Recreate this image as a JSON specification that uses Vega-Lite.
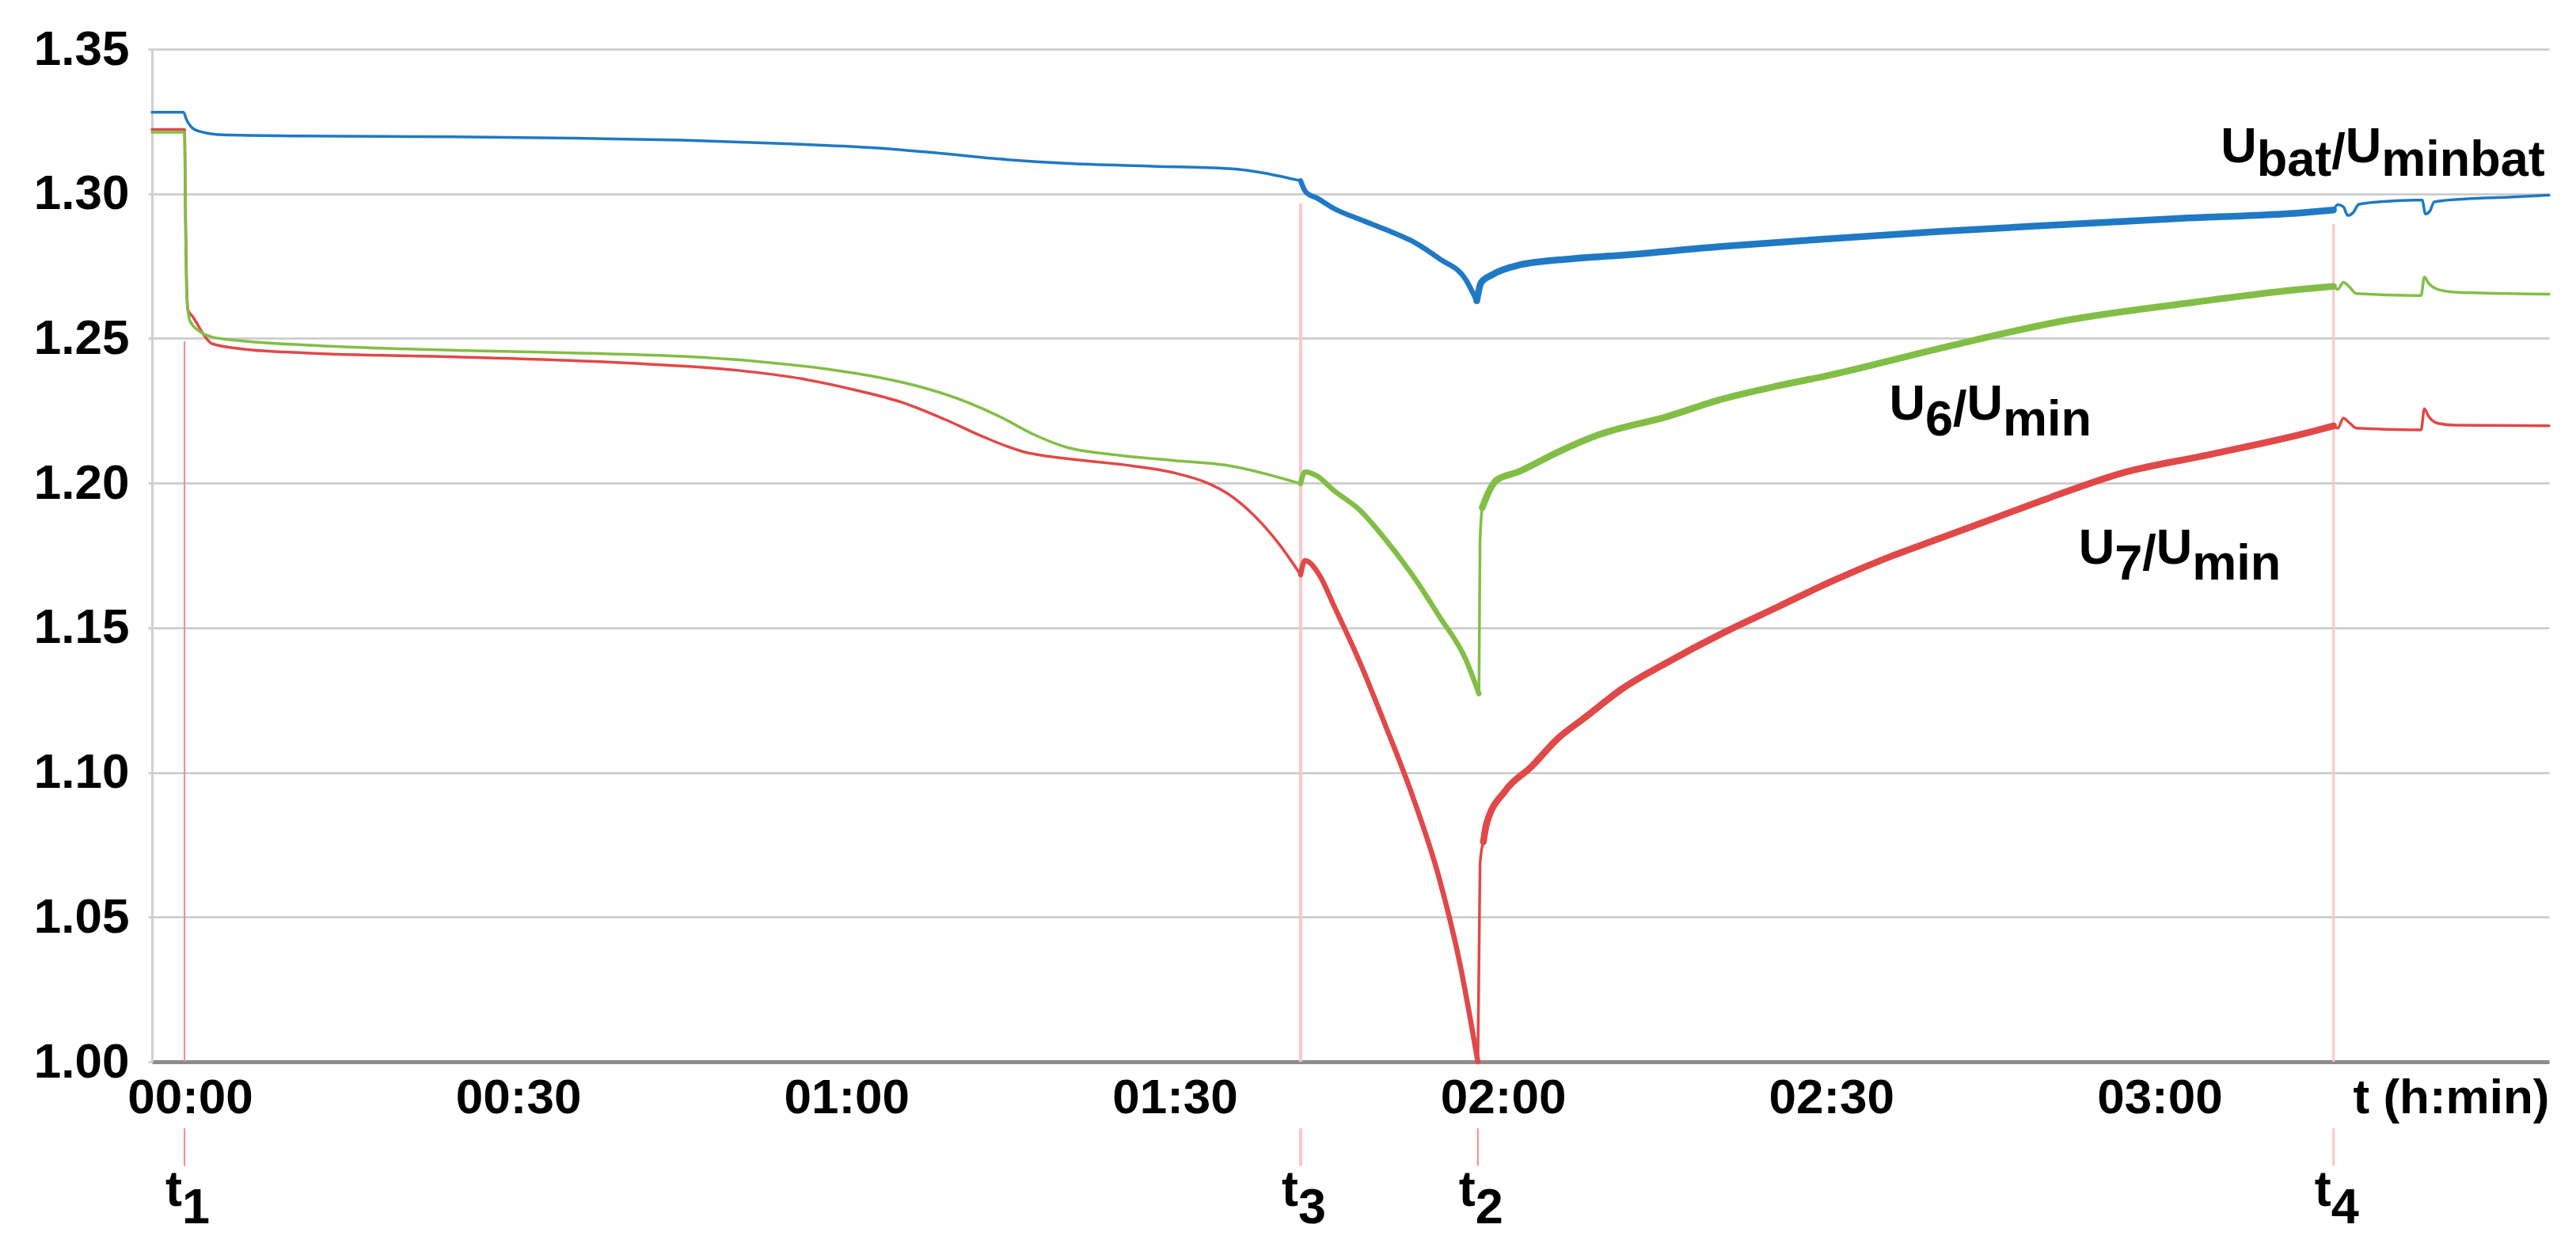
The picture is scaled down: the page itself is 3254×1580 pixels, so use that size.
{
  "$schema": "https://vega.github.io/schema/vega-lite/v6.json",
  "width": 3028,
  "height": 1279,
  "autosize": {"type": "none"},
  "padding": {"left": 192, "top": 62, "right": 34, "bottom": 239},
  "background": "white",
  "data": {"values": [{}]},
  "resolve": {"scale": {"color": "independent", "strokeWidth": "independent"}},
  "config": {
    "view": {"stroke": null},
    "font": "Liberation Sans",
    "axisX": {"domainColor": "#8c8c8c", "domainWidth": 5, "ticks": false, "tickSize": 0, "grid": false, "labelFont": "Liberation Sans", "labelFontSize": 62, "labelFontWeight": "bold", "labelColor": "#000000", "labelBaseline": "alphabetic", "labelPadding": 64, "labelFlush": false, "labelOverlap": false, "titleFont": "Liberation Sans", "titleFontSize": 62, "titleFontWeight": "bold", "titleColor": "#000000", "titleAnchor": "end", "titleAlign": "right", "titleBaseline": "alphabetic", "titleX": 3028, "titleY": 64},
    "axisY": {"domainColor": "#d0d0d0", "domainWidth": 3, "ticks": true, "tickColor": "#c8c8c8", "tickWidth": 2.5, "tickSize": 5, "grid": true, "gridColor": "#c8c8c8", "gridWidth": 2.5, "labelFont": "Liberation Sans", "labelFontSize": 62, "labelFontWeight": "bold", "labelColor": "#000000", "labelPadding": 24, "labelFlush": false}
  },
  "datasets": {
    "series": [
      {"s": "U7", "seg": "r1", "t": [-3.47, -0.5, -0.4, -0.2, 0.3, 1.5, 2, 4.9, 10.5, 24.3, 40, 50, 56, 61, 65, 69, 72.5, 76, 80, 85, 90, 93, 94.9, 97.3, 99.7, 101.5], "v": [1.3222, 1.3222, 1.29, 1.26, 1.2573, 1.25, 1.2482, 1.2463, 1.245, 1.2436, 1.2415, 1.239, 1.236, 1.232, 1.228, 1.222, 1.216, 1.211, 1.2085, 1.2065, 1.2035, 1.2, 1.1962, 1.1886, 1.1781, 1.1683]},
      {"s": "U7", "seg": "d", "t": [101.5, 101.9, 103.3, 104.5, 106.9, 109.3, 111.7, 114.2, 116, 117.7], "v": [1.1683, 1.1732, 1.1677, 1.158, 1.1382, 1.1158, 1.0922, 1.063, 1.035, 1.0]},
      {"s": "U7", "seg": "j", "t": [117.7, 117.9, 118.2], "v": [1.0, 1.0684, 1.076]},
      {"s": "U7", "seg": "c", "t": [118.2, 118.5, 120.2, 122.6, 125, 127.4, 131, 135, 140, 145, 150, 155, 160, 165, 170, 176.6, 184.5, 193.2, 195.9], "v": [1.076, 1.0823, 1.0936, 1.102, 1.1117, 1.1187, 1.1292, 1.138, 1.148, 1.157, 1.166, 1.174, 1.181, 1.188, 1.195, 1.2035, 1.2098, 1.2171, 1.2198]},
      {"s": "U7", "seg": "r2", "t": [195.9, 196.3, 196.8, 197.3, 198, 203.9, 204.2, 204.6, 205.4, 207, 215.6], "v": [1.2198, 1.219, 1.2225, 1.221, 1.219, 1.2184, 1.2257, 1.223, 1.2207, 1.22, 1.2198]},
      {"s": "U6", "seg": "r1", "t": [-3.47, -0.5, -0.4, -0.3, 0, 0.8, 2, 4.9, 10.5, 24.3, 35, 45, 52, 58, 63, 67, 71, 74, 77, 80, 84, 90, 95, 101.5], "v": [1.3213, 1.3213, 1.29, 1.265, 1.256, 1.2527, 1.2505, 1.2491, 1.2477, 1.2459, 1.245, 1.2438, 1.242, 1.2395, 1.2365, 1.233, 1.228, 1.223, 1.217, 1.2125, 1.21, 1.2078, 1.206, 1.1998]},
      {"s": "U6", "seg": "d", "t": [101.5, 101.9, 103, 104.5, 106.9, 109.3, 111.7, 114.2, 116.6, 117.8], "v": [1.1998, 1.2039, 1.2025, 1.1976, 1.1907, 1.1803, 1.1683, 1.1538, 1.139, 1.1272]},
      {"s": "U6", "seg": "j", "t": [117.8, 117.9, 118.1], "v": [1.1272, 1.1803, 1.1915]},
      {"s": "U6", "seg": "c", "t": [118.1, 118.7, 119.4, 121.4, 125, 128.6, 135, 140, 145, 149.6, 160.5, 171.4, 182.3, 193.2, 195.9], "v": [1.1915, 1.197, 1.201, 1.2039, 1.2107, 1.2165, 1.223, 1.229, 1.2335, 1.2371, 1.2471, 1.2562, 1.2621, 1.2671, 1.268]},
      {"s": "U6", "seg": "r2", "t": [195.9, 196.3, 196.8, 197.3, 198, 203.9, 204.2, 204.6, 205.4, 207, 209.3, 215.6], "v": [1.268, 1.267, 1.2694, 1.268, 1.2655, 1.2648, 1.2712, 1.269, 1.267, 1.266, 1.2657, 1.2653]},
      {"s": "Ubat", "seg": "r1", "t": [-3.47, -0.6, -0.3, 0.3, 1.5, 3, 10, 24, 35, 45, 55, 62, 68, 74, 80, 88, 95, 101.5], "v": [1.3282, 1.3282, 1.3255, 1.3225, 1.321, 1.3204, 1.32, 1.3197, 1.3192, 1.3185, 1.3172, 1.316, 1.3142, 1.312, 1.3105, 1.3095, 1.3087, 1.3045]},
      {"s": "Ubat", "seg": "d", "t": [101.5, 102, 103, 104.5, 107, 109.3, 112, 114.2, 116.6, 117.6], "v": [1.3045, 1.3005, 1.2985, 1.295, 1.291, 1.2876, 1.283, 1.2775, 1.2703, 1.263]},
      {"s": "Ubat", "seg": "c", "t": [117.6, 118, 119, 121.4, 126.2, 131, 140, 149.6, 160, 171.4, 182, 193.2, 195.9], "v": [1.263, 1.2693, 1.272, 1.2753, 1.2775, 1.2788, 1.2818, 1.2844, 1.287, 1.2894, 1.2915, 1.2935, 1.2944]},
      {"s": "Ubat", "seg": "r2", "t": [195.9, 196.3, 196.8, 197.2, 197.7, 198.2, 200, 204, 204.3, 204.7, 205.1, 208, 212, 215.6], "v": [1.2944, 1.2962, 1.2955, 1.2925, 1.2935, 1.2963, 1.2972, 1.2978, 1.293, 1.294, 1.2972, 1.2982, 1.2988, 1.2995]}
    ],
    "marks": [
      {"name": "t1", "sub": "1", "t": -0.5, "top": 1.249},
      {"name": "t3", "sub": "3", "t": 101.5, "top": 1.2966},
      {"name": "t2", "sub": "2", "t": 117.7, "top": 1.0},
      {"name": "t4", "sub": "4", "t": 195.9, "top": 1.2895}
    ]
  },
  "layer": [
    {
      "data": {"name": "marks"},
      "mark": {"type": "rule"},
      "encoding": {
        "x": {"field": "t", "type": "quantitative", "scale": {"domain": [-3.47, 215.6], "nice": false, "zero": false}, "axis": {"title": "t (h:min)", "values": [0, 30, 60, 90, 120, 150, 180], "labelExpr": "format(floor(datum.value/60),'02d') + ':' + format(datum.value%60,'02d')"}},
        "y": {"field": "top", "type": "quantitative", "scale": {"domain": [1.0, 1.35], "nice": false, "zero": false}, "axis": {"title": null, "values": [1.0, 1.05, 1.1, 1.15, 1.2, 1.25, 1.3, 1.35], "format": ".2f"}},
        "y2": {"datum": 1.0},
        "color": {"field": "name", "type": "nominal", "scale": {"domain": ["t1", "t3", "t2", "t4"], "range": ["#f28c8c", "#fcc6c6", "#f28c8c", "#fcc6c6"]}, "legend": null},
        "strokeWidth": {"field": "name", "type": "nominal", "scale": {"type": "ordinal", "domain": ["t1", "t3", "t2", "t4"], "range": [2, 4, 2, 3]}, "legend": null}
      }
    },
    {
      "data": {"name": "series"},
      "transform": [{"flatten": ["t", "v"]}],
      "mark": {"type": "line", "interpolate": "monotone", "strokeJoin": "round", "strokeCap": "round"},
      "encoding": {
        "x": {"field": "t", "type": "quantitative", "scale": {"domain": [-3.47, 215.6], "nice": false, "zero": false}, "axis": {"title": "t (h:min)"}},
        "y": {"field": "v", "type": "quantitative", "scale": {"domain": [1.0, 1.35], "nice": false, "zero": false}, "axis": {"title": null}},
        "color": {"field": "s", "type": "nominal", "scale": {"domain": ["U7", "U6", "Ubat"], "range": ["#e14848", "#82be46", "#1f79c4"]}, "legend": null},
        "strokeWidth": {"field": "seg", "type": "nominal", "scale": {"type": "ordinal", "domain": ["r1", "d", "j", "c", "r2"], "range": [3.5, 6.5, 3.5, 8.5, 3.5]}, "legend": null}
      }
    },
    {
      "data": {"name": "marks"},
      "mark": {"type": "rule"},
      "encoding": {
        "x": {"field": "t", "type": "quantitative", "axis": {"title": "t (h:min)"}},
        "y": {"datum": 0.977, "type": "quantitative", "axis": {"title": null}},
        "y2": {"datum": 0.964},
        "color": {"field": "name", "type": "nominal", "scale": {"domain": ["t1", "t3", "t2", "t4"], "range": ["#f28c8c", "#fcc6c6", "#f28c8c", "#fcc6c6"]}, "legend": null},
        "strokeWidth": {"field": "name", "type": "nominal", "scale": {"type": "ordinal", "domain": ["t1", "t3", "t2", "t4"], "range": [2, 4, 2, 3]}, "legend": null}
      }
    },
    {
      "data": {"name": "marks"},
      "mark": {"type": "text", "text": "t", "align": "right", "baseline": "alphabetic", "dx": -3, "fontSize": 63, "fontWeight": "bold", "font": "Liberation Sans", "color": "#000000"},
      "encoding": {
        "x": {"field": "t", "type": "quantitative", "axis": {"title": "t (h:min)"}},
        "y": {"datum": 0.9502, "type": "quantitative", "axis": {"title": null}}
      }
    },
    {
      "data": {"name": "marks"},
      "mark": {"type": "text", "align": "left", "baseline": "alphabetic", "dx": -3, "fontSize": 63, "fontWeight": "bold", "font": "Liberation Sans", "color": "#000000"},
      "encoding": {
        "x": {"field": "t", "type": "quantitative", "axis": {"title": "t (h:min)"}},
        "y": {"datum": 0.9441, "type": "quantitative", "axis": {"title": null}},
        "text": {"field": "sub"}
      }
    },
    {"mark": {"type": "text", "text": "U", "align": "left", "baseline": "alphabetic", "dx": 0, "dy": 0, "fontSize": 63, "fontWeight": "bold", "color": "#000000"}, "encoding": {"x": {"datum": 185.6, "type": "quantitative"}, "y": {"datum": 1.3109, "type": "quantitative"}}},
    {"mark": {"type": "text", "text": "bat", "align": "left", "baseline": "alphabetic", "dx": 45.5, "dy": 17, "fontSize": 63, "fontWeight": "bold", "color": "#000000"}, "encoding": {"x": {"datum": 185.6, "type": "quantitative"}, "y": {"datum": 1.3109, "type": "quantitative"}}},
    {"mark": {"type": "text", "text": "/", "align": "left", "baseline": "alphabetic", "dx": 140, "dy": 8, "fontSize": 63, "fontWeight": "bold", "color": "#000000"}, "encoding": {"x": {"datum": 185.6, "type": "quantitative"}, "y": {"datum": 1.3109, "type": "quantitative"}}},
    {"mark": {"type": "text", "text": "U", "align": "left", "baseline": "alphabetic", "dx": 157.5, "dy": 0, "fontSize": 63, "fontWeight": "bold", "color": "#000000"}, "encoding": {"x": {"datum": 185.6, "type": "quantitative"}, "y": {"datum": 1.3109, "type": "quantitative"}}},
    {"mark": {"type": "text", "text": "minbat", "align": "left", "baseline": "alphabetic", "dx": 203, "dy": 17, "fontSize": 63, "fontWeight": "bold", "color": "#000000"}, "encoding": {"x": {"datum": 185.6, "type": "quantitative"}, "y": {"datum": 1.3109, "type": "quantitative"}}},
    {"mark": {"type": "text", "text": "U", "align": "left", "baseline": "alphabetic", "dx": 0, "dy": 0, "fontSize": 63, "fontWeight": "bold", "color": "#000000"}, "encoding": {"x": {"datum": 155.3, "type": "quantitative"}, "y": {"datum": 1.2219, "type": "quantitative"}}},
    {"mark": {"type": "text", "text": "6", "align": "left", "baseline": "alphabetic", "dx": 45.5, "dy": 20, "fontSize": 63, "fontWeight": "bold", "color": "#000000"}, "encoding": {"x": {"datum": 155.3, "type": "quantitative"}, "y": {"datum": 1.2219, "type": "quantitative"}}},
    {"mark": {"type": "text", "text": "/", "align": "left", "baseline": "alphabetic", "dx": 80.5, "dy": 8, "fontSize": 63, "fontWeight": "bold", "color": "#000000"}, "encoding": {"x": {"datum": 155.3, "type": "quantitative"}, "y": {"datum": 1.2219, "type": "quantitative"}}},
    {"mark": {"type": "text", "text": "U", "align": "left", "baseline": "alphabetic", "dx": 98, "dy": 0, "fontSize": 63, "fontWeight": "bold", "color": "#000000"}, "encoding": {"x": {"datum": 155.3, "type": "quantitative"}, "y": {"datum": 1.2219, "type": "quantitative"}}},
    {"mark": {"type": "text", "text": "min", "align": "left", "baseline": "alphabetic", "dx": 143.5, "dy": 20, "fontSize": 63, "fontWeight": "bold", "color": "#000000"}, "encoding": {"x": {"datum": 155.3, "type": "quantitative"}, "y": {"datum": 1.2219, "type": "quantitative"}}},
    {"mark": {"type": "text", "text": "U", "align": "left", "baseline": "alphabetic", "dx": 0, "dy": 0, "fontSize": 63, "fontWeight": "bold", "color": "#000000"}, "encoding": {"x": {"datum": 172.6, "type": "quantitative"}, "y": {"datum": 1.1721, "type": "quantitative"}}},
    {"mark": {"type": "text", "text": "7", "align": "left", "baseline": "alphabetic", "dx": 45.5, "dy": 20, "fontSize": 63, "fontWeight": "bold", "color": "#000000"}, "encoding": {"x": {"datum": 172.6, "type": "quantitative"}, "y": {"datum": 1.1721, "type": "quantitative"}}},
    {"mark": {"type": "text", "text": "/", "align": "left", "baseline": "alphabetic", "dx": 80.5, "dy": 8, "fontSize": 63, "fontWeight": "bold", "color": "#000000"}, "encoding": {"x": {"datum": 172.6, "type": "quantitative"}, "y": {"datum": 1.1721, "type": "quantitative"}}},
    {"mark": {"type": "text", "text": "U", "align": "left", "baseline": "alphabetic", "dx": 98, "dy": 0, "fontSize": 63, "fontWeight": "bold", "color": "#000000"}, "encoding": {"x": {"datum": 172.6, "type": "quantitative"}, "y": {"datum": 1.1721, "type": "quantitative"}}},
    {"mark": {"type": "text", "text": "min", "align": "left", "baseline": "alphabetic", "dx": 143.5, "dy": 20, "fontSize": 63, "fontWeight": "bold", "color": "#000000"}, "encoding": {"x": {"datum": 172.6, "type": "quantitative"}, "y": {"datum": 1.1721, "type": "quantitative"}}}
  ]
}
